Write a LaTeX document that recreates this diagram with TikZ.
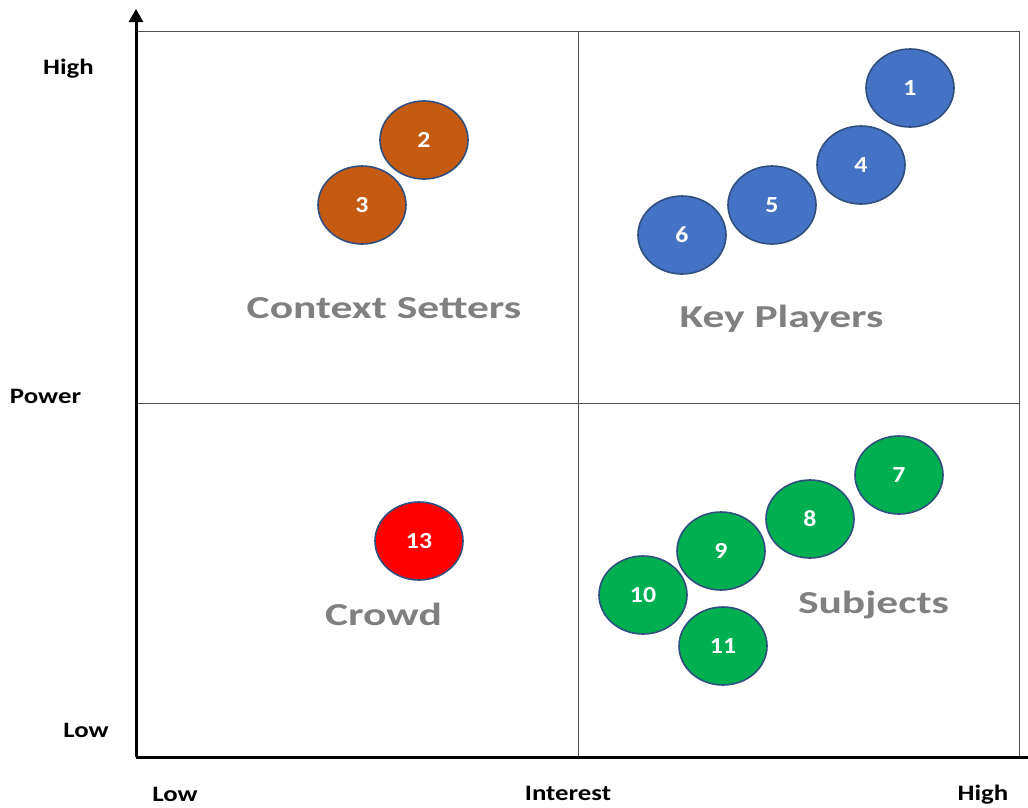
\documentclass[tikz,border=0pt]{standalone}
\usepackage{fontspec}
\setmainfont{Carlito}
\newfontfamily\quadfont{Carlito}[FakeStretch=1.36]
\newfontfamily\axfont{Carlito}[FakeStretch=1.22]
\newfontfamily\numfont{Carlito}[FakeStretch=1.12]
\usetikzlibrary{arrows.meta,shapes.geometric}
\definecolor{cblue}{HTML}{4472C4}
\definecolor{corange}{HTML}{C55A11}
\definecolor{cgreen}{HTML}{00B050}
\definecolor{cred}{HTML}{FF0000}
\definecolor{cborder}{HTML}{2F4F7F}
\definecolor{cgrid}{HTML}{505050}
\definecolor{clab}{HTML}{808080}
\tikzset{
  stake/.style={ellipse,draw=cborder,line width=1.6pt,minimum width=88pt,minimum height=78pt,inner sep=0pt,
    text=white,font=\numfont\fontsize{23}{25}\selectfont\bfseries},
  quad/.style={anchor=base,inner sep=0pt,text=clab,font=\quadfont\fontsize{32}{35}\selectfont\bfseries},
  axlab/.style={anchor=base,inner sep=0pt,text=black,font=\axfont\fontsize{22}{24}\selectfont\bfseries},
  gridline/.style={draw=cgrid,line width=0.9pt},
  axisline/.style={draw=black,line width=3pt}
}
\begin{document}
\begin{tikzpicture}[x=1pt,y=-1pt]
\useasboundingbox (0,0) rectangle (1028,807);
\coordinate (tl) at (136,31);
\coordinate (tr) at (1019,31);
\coordinate (br) at (1019,757);
\coordinate (tm) at (578,31);
\coordinate (bm) at (578,757);
\coordinate (ml) at (136,403);
\coordinate (mr) at (1019,403);
\coordinate (origin) at (136,757);
\coordinate (ytip) at (136,9);
\coordinate (xtip) at (1040,757);
\draw[gridline] (tl) -- (tr) -- (br);
\draw[gridline] (tm) -- (bm);
\draw[gridline] (ml) -- (mr);
\draw[axisline] (origin) -- (xtip);
\draw[axisline,-{Triangle[length=13pt,width=14pt]}] (origin) -- (ytip);

\node[axlab] (hi) at (68.5,74) {High};
\node[axlab] (pw) at (45.5,403) {Power};
\node[axlab] (lo) at (86,737) {Low};
\node[axlab] (lo2) at (175,801) {Low};
\node[axlab] (in) at (568,800) {Interest};
\node[axlab] (hi2) at (983,800) {High};

\node[quad] (cs) at (384,318) {Context Setters};
\node[quad] (kp) at (781.5,327) {Key Players};
\node[quad] (cr) at (383.5,625) {Crowd};
\node[quad] (su) at (873.5,613) {Subjects};

\node[stake,fill=cblue] (s1) at (910,88) {1};
\node[stake,fill=cblue] (s4) at (861,165) {4};
\node[stake,fill=cblue] (s5) at (772,205) {5};
\node[stake,fill=cblue] (s6) at (682,235) {6};
\node[stake,fill=corange] (s2) at (424,140) {2};
\node[stake,fill=corange] (s3) at (362,205) {3};
\node[stake,fill=cgreen] (s7) at (899,475) {7};
\node[stake,fill=cgreen] (s8) at (810,519) {8};
\node[stake,fill=cgreen] (s9) at (721,551) {9};
\node[stake,fill=cgreen] (s10) at (643,595) {10};
\node[stake,fill=cgreen] (s11) at (723,646) {11};
\node[stake,fill=cred] (s13) at (419,541) {13};
\end{tikzpicture}
\end{document}
